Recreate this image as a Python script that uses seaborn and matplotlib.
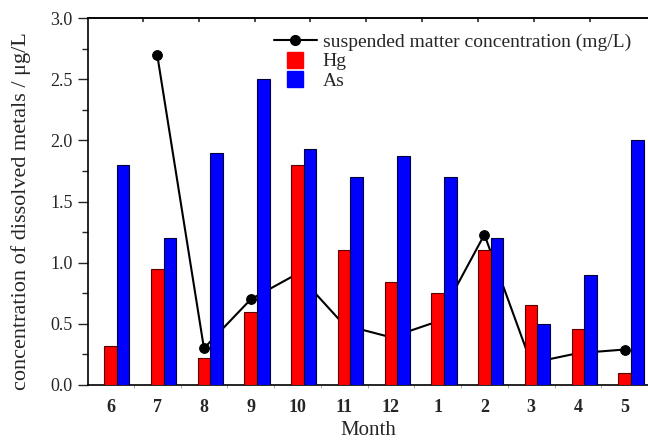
import numpy as np
import pandas as pd
import seaborn as sns
import matplotlib.pyplot as plt
from matplotlib.lines import Line2D

# Monthly data
months = ['6', '7', '8', '9', '10', '11', '12', '1', '2', '3', '4', '5']
hg = [0.32, 0.95, 0.22, 0.60, 1.80, 1.10, 0.84, 0.75, 1.10, 0.65, 0.46, 0.10]
as_ = [1.80, 1.20, 1.90, 2.50, 1.93, 1.70, 1.87, 1.70, 1.20, 0.50, 0.90, 2.00]
suspended = [np.nan, 2.70, 0.30, 0.70, 0.91, 0.49, 0.39, 0.52, 1.23, 0.18, 0.26, 0.29]

sns.set_style('ticks')
plt.rcParams['font.family'] = ['Liberation Serif', 'DejaVu Serif']

df = pd.DataFrame({'Month': months * 2,
                   'Value': hg + as_,
                   'Metal': ['Hg'] * len(months) + ['As'] * len(months)})

fig = plt.figure(figsize=(6.48, 4.42), dpi=100)
ax = fig.add_axes([0.1358, 0.129, 0.8642, 0.830])

bar_w = 0.27
sns.barplot(data=df, x='Month', y='Value', hue='Metal', order=months,
            hue_order=['Hg', 'As'], palette=['#ff0000', '#0000ff'],
            saturation=1, width=2 * bar_w, dodge=True, ax=ax, legend=False,
            edgecolor='#202020', linewidth=0.8, zorder=3)
for bar in ax.patches:
    if bar.get_facecolor()[0] > 0.5:
        bar.set_edgecolor('#5a0000')
    else:
        bar.set_edgecolor('#00003a')

# Hg bar centres, where the month ticks and the line sit
centres = np.arange(len(months)) - bar_w / 2
sns.lineplot(x=centres, y=suspended, ax=ax, color='black', lw=1.5,
             marker='o', markersize=7, markeredgecolor='black', zorder=2)

ax.set_xlim(-0.616, 11.356)
ax.set_ylim(0, 3.0)
ax.set_xticks(centres)
ax.set_xticklabels(months, fontweight='bold', fontsize=13)
ax.set_xticks(np.arange(len(months)) + 0.5 - bar_w / 2, minor=True)
ax.tick_params(axis='x', which='major', length=0, pad=10)
ax.tick_params(axis='x', which='minor', length=2, width=0.6, color='#999999')
ax.set_yticks(np.arange(0, 3.01, 0.5))
ax.set_yticklabels([f'{v:.1f}' for v in np.arange(0, 3.01, 0.5)], fontsize=13)
ax.set_yticks(np.arange(0, 3.01, 0.25), minor=True)
ax.tick_params(axis='y', which='major', length=7, width=1.0, direction='out', pad=4)
ax.tick_params(axis='y', which='minor', length=4, width=1.0, direction='out')

# small ticks along the top frame
top = ax.secondary_xaxis('top')
top.set_xticks(np.linspace(0.69, 10.26, 9) - 0.135)
top.set_xticklabels([])
top.tick_params(length=3, width=1.2, direction='in')
top.spines['top'].set_linewidth(1.2)

for s in ['left', 'bottom', 'top']:
    ax.spines[s].set_linewidth(1.2)
    ax.spines[s].set_color('black')
ax.spines['right'].set_visible(False)

ax.set_xlabel('Month', fontsize=15, labelpad=4)
ax.set_ylabel('concentration of dissolved metals / \u03bcg/L', fontsize=16)
ax.yaxis.set_label_coords(-0.102, 0.474)

handles = [Line2D([], [], color='black', lw=1.5, marker='o', markersize=7),
           Line2D([], [], ls='none', marker='s', markersize=11,
                  markerfacecolor='#ff0000', markeredgecolor='#ff0000'),
           Line2D([], [], ls='none', marker='s', markersize=11,
                  markerfacecolor='#0000ff', markeredgecolor='#0000ff')]
ax.legend(handles, ['suspended matter concentration (mg/L)', 'Hg', 'As'],
          loc='upper left', bbox_to_anchor=(0.308, 0.995), frameon=False,
          fontsize=14, handlelength=2.2, handletextpad=0.3, labelspacing=0.08,
          borderaxespad=0.3)

fig.savefig('out.png', dpi=100)
